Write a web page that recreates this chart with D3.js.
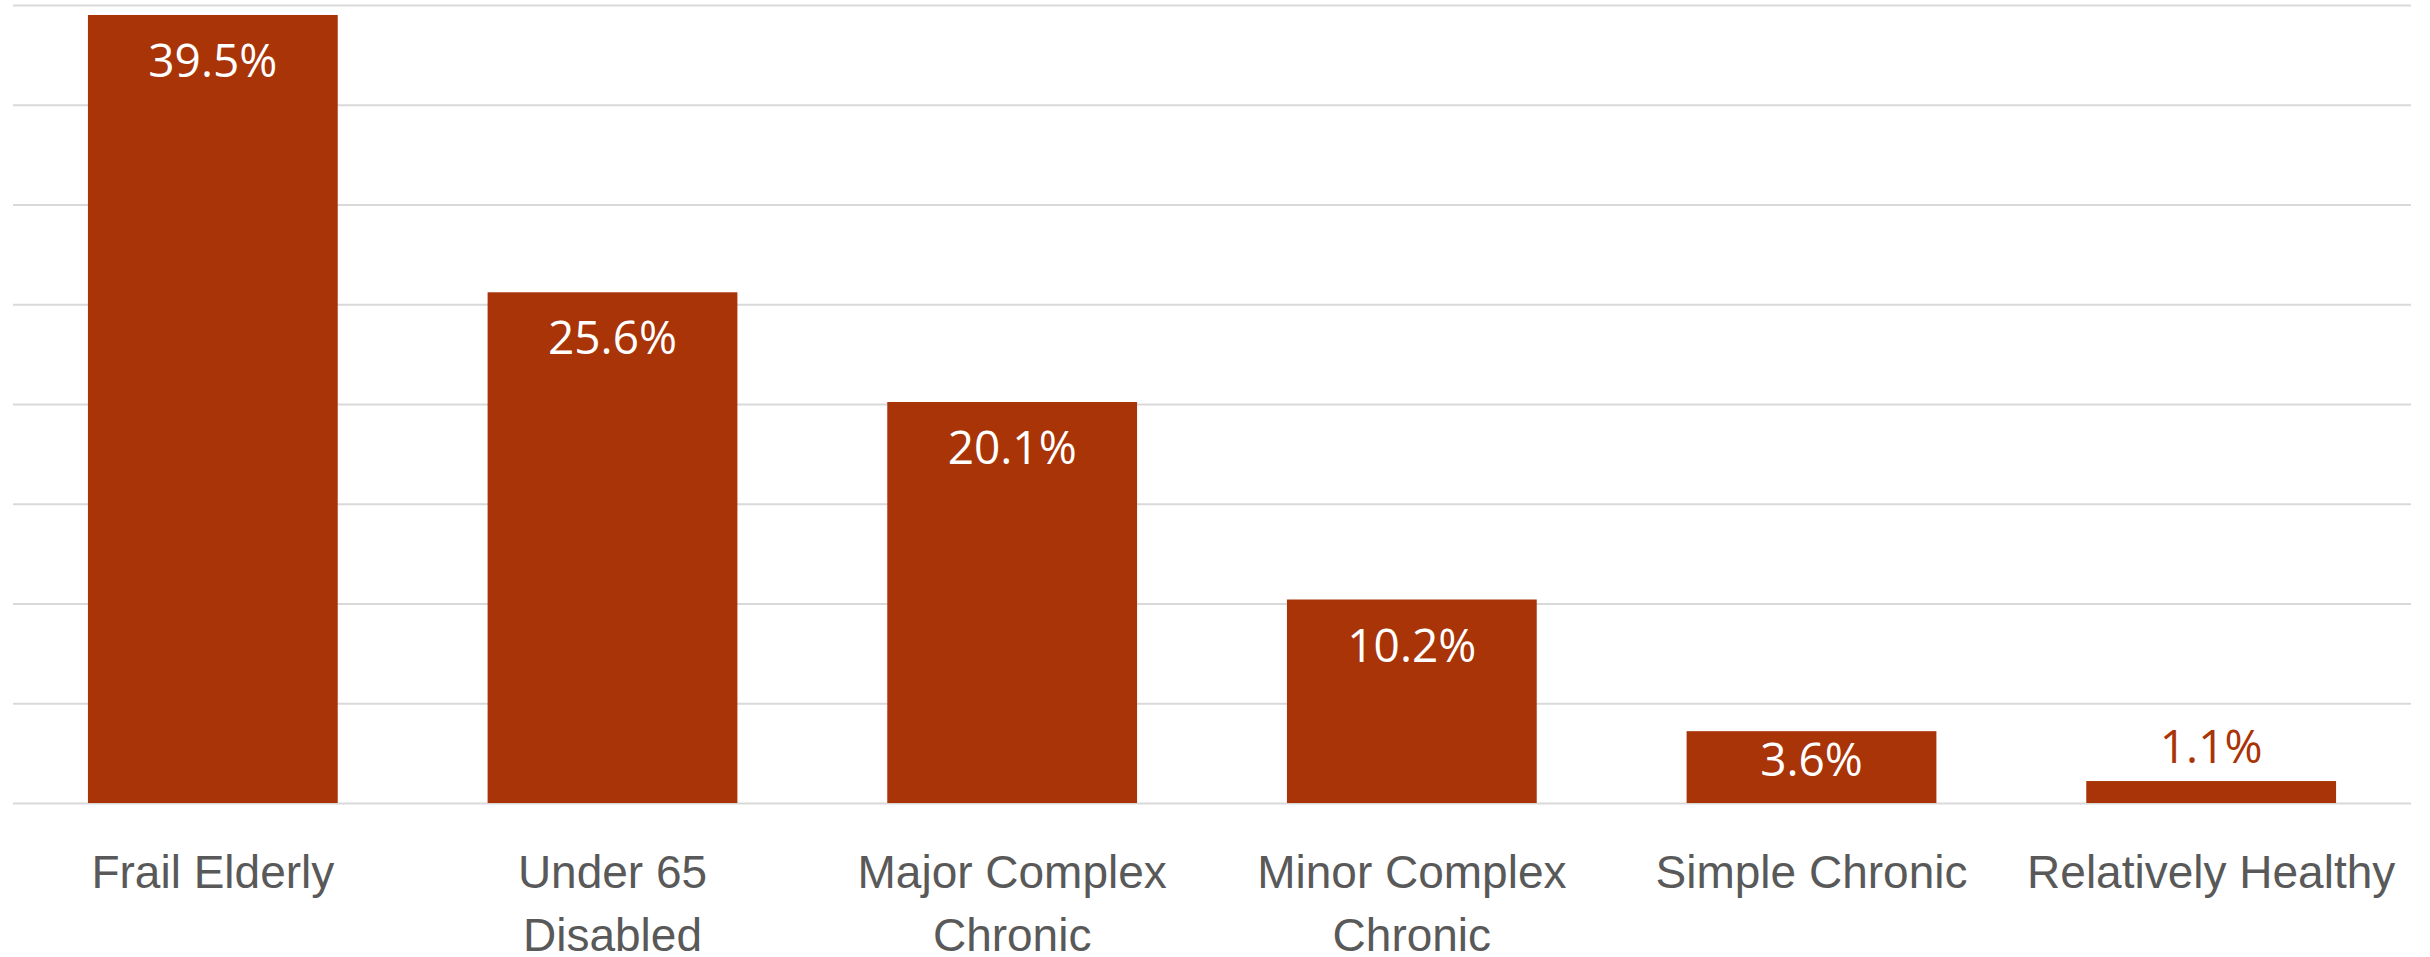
<!DOCTYPE html>
<html>
<head>
<meta charset="utf-8">
<script src="https://cdn.jsdelivr.net/npm/d3@7"></script>
<style>
  html, body { margin: 0; padding: 0; background: #fff; }
  svg { display: block; font-family: "Open Sans", sans-serif; }
</style>
</head>
<body>
<div id="chart"></div>
<script>
// Data
const categories = [
  "Frail Elderly",
  "Under 65\nDisabled",
  "Major Complex\nChronic",
  "Minor Complex\nChronic",
  "Simple Chronic",
  "Relatively Healthy"
];
const values = [39.5, 25.6, 20.1, 10.2, 3.6, 1.1];
const yTicks = [0, 5, 10, 15, 20, 25, 30, 35, 40];

const WIDTH = 2430;
const HEIGHT = 957;

const margin = { top: 5, right: 19, bottom: 154, left: 13 };
const width = WIDTH - margin.left - margin.right;
const height = HEIGHT - margin.top - margin.bottom;

const barColor = "#a93408";

const svg = d3
  .select("#chart")
  .append("svg")
  .attr("width", WIDTH)
  .attr("height", HEIGHT)
  .append("g")
  .attr("transform", `translate(${margin.left}, ${margin.top})`);

const x = d3
  .scaleBand()
  .range([0, width])
  .domain(categories)
  .paddingInner(0.375)
  .paddingOuter(0.1875);

const y = d3.scaleLinear().range([height, 0]).domain([0, 40]);

// gridlines
const grid = svg
  .append("g")
  .call(d3.axisLeft(y).tickValues(yTicks).tickSize(-width).tickFormat(""));
grid.select(".domain").remove();
grid
  .selectAll(".tick line")
  .attr("stroke", "#d9d9d9")
  .attr("stroke-width", 2);

// bars
svg
  .selectAll("rect.bar")
  .data(values)
  .join("rect")
  .attr("class", "bar")
  .attr("x", (d, i) => x(categories[i]))
  .attr("y", d => y(d))
  .attr("width", x.bandwidth())
  .attr("height", d => height - y(d))
  .attr("fill", barColor);

// value labels (inside the bar end, or above it when the bar is too short)
const fmt = d3.format(".1f");
svg
  .selectAll("text.value")
  .data(values)
  .join("text")
  .attr("class", "value")
  .attr("x", (d, i) => x(categories[i]) + x.bandwidth() / 2)
  .attr("y", d => {
    const h = height - y(d);
    if (h < 50) return y(d) - 18;
    return Math.min(y(d) + 62, height - 27);
  })
  .attr("text-anchor", "middle")
  .attr("font-size", 46)
  .attr("fill", d => (height - y(d) < 50 ? barColor : "#ffffff"))
  .text(d => fmt(d) + "%");

// category axis
const xAxis = svg
  .append("g")
  .attr("transform", `translate(0, ${height})`)
  .call(d3.axisBottom(x).tickSize(0).tickFormat(""));
xAxis.select(".domain").remove();

xAxis
  .selectAll(".tick")
  .append("text")
  .attr("text-anchor", "middle")
  .attr("font-size", 46)
  .attr("fill", "#595959")
  .each(function (d) {
    const lines = d.split("\n");
    d3.select(this)
      .selectAll("tspan")
      .data(lines)
      .join("tspan")
      .attr("x", 0)
      .attr("y", (l, i) => 85 + i * 63)
      .text(l => l);
  });
</script>
</body>
</html>
